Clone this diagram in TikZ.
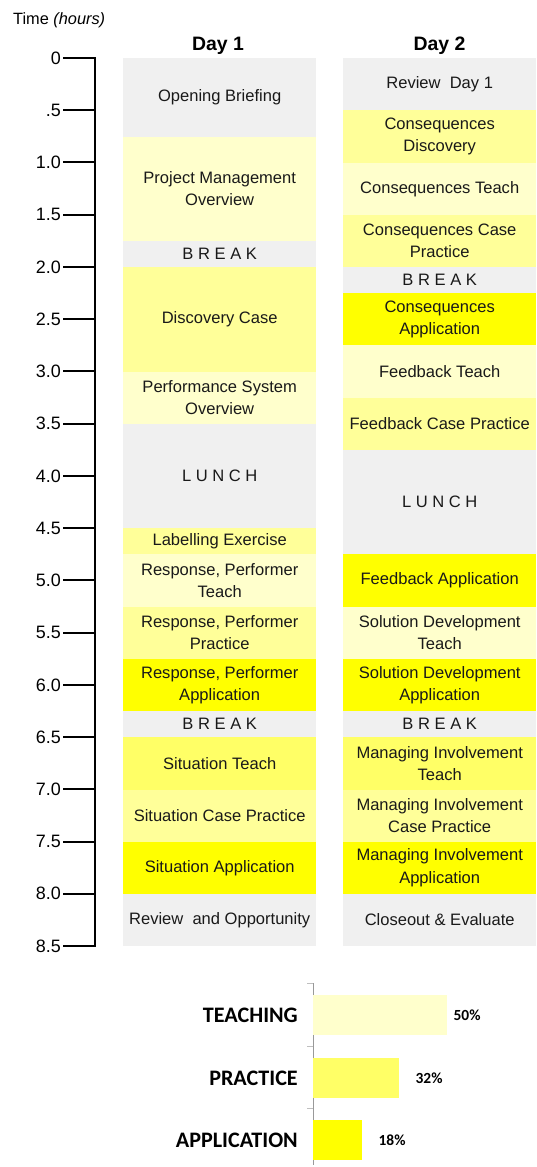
\documentclass[tikz,border=0pt]{standalone}
\usepackage{fontspec}
\setmainfont{Liberation Sans}
\newfontfamily\barfont{Carlito}
\usetikzlibrary{positioning}
\definecolor{offgray}{HTML}{F0F0F0}
\definecolor{teachy}{HTML}{FFFFCC}
\definecolor{practy}{HTML}{FFFF99}
\definecolor{strongy}{HTML}{FFFF66}
\definecolor{appy}{HTML}{FFFF00}
% one block of the timetable: x, start hour, end hour, colour, name, text
\newcommand{\slot}[6]{%
  \pgfmathsetmacro{\ya}{58+104.47*#2}
  \pgfmathsetmacro{\hh}{104.47*(#3-#2)}
  \node[cell, fill=#4, minimum height=\hh bp, anchor=north west] (#5) at (#1,\ya) {#6};
}

\begin{document}
\begin{tikzpicture}[x=1bp,y=-1bp,
    cell/.style={inner sep=0pt, minimum width=193bp, align=center,
      font=\fontsize{16.6}{22.5}\selectfont, text=black!90},
    head/.style={font=\fontsize{19.5}{22}\selectfont\bfseries},
    ticklab/.style={anchor=east, inner sep=0pt, font=\fontsize{18}{20}\selectfont},
    cat/.style={inner sep=0pt, font=\barfont\fontsize{22.2}{25}\selectfont\bfseries},
    pct/.style={inner sep=0pt, font=\barfont\fontsize{15.5}{18}\selectfont\bfseries},
    bar/.style={inner sep=0pt, minimum height=40bp, anchor=west}]
  \useasboundingbox (0,0) rectangle (537,1167);

  \node[anchor=west, inner sep=0pt, font=\fontsize{16.4}{18}\selectfont] (tlabel) at (13,20) {Time \textit{(hours)}};
  \node[head] (day1) at (218,46) {Day 1};
  \node[head] (day2) at (439.5,46) {Day 2};

  % time axis
  \draw[line width=2bp] (95,58) -- (95,946);
  \foreach \i/\lab in {0/0,1/.5,2/1.0,3/1.5,4/2.0,5/2.5,6/3.0,7/3.5,8/4.0,9/4.5,
      10/5.0,11/5.5,12/6.0,13/6.5,14/7.0,15/7.5,16/8.0,17/8.5}{
    \pgfmathsetmacro{\yy}{58+52.235*\i}
    \draw[line width=2bp] (63,\yy) -- (96,\yy);
    \node[ticklab] (tick\i) at (61,\yy) {\lab};
  }

  % day 1
  \slot{123}{0}{0.75}{offgray}{aa}{Opening Briefing}
  \slot{123}{0.75}{1.75}{teachy}{ab}{Project Management\\Overview}
  \slot{123}{1.75}{2}{offgray}{ac}{B R E A K}
  \slot{123}{2}{3}{practy}{ad}{Discovery Case}
  \slot{123}{3}{3.5}{teachy}{ae}{Performance System\\Overview}
  \slot{123}{3.5}{4.5}{offgray}{af}{L U N C H}
  \slot{123}{4.5}{4.75}{practy}{ag}{Labelling Exercise}
  \slot{123}{4.75}{5.25}{teachy}{ah}{Response, Performer\\Teach}
  \slot{123}{5.25}{5.75}{practy}{ai}{Response, Performer\\Practice}
  \slot{123}{5.75}{6.25}{appy}{aj}{Response, Performer\\Application}
  \slot{123}{6.25}{6.5}{offgray}{ak}{B R E A K}
  \slot{123}{6.5}{7}{strongy}{al}{Situation Teach}
  \slot{123}{7}{7.5}{practy}{am}{Situation Case Practice}
  \slot{123}{7.5}{8}{appy}{an}{Situation Application}
  \slot{123}{8}{8.5}{offgray}{ao}{Review\ \ and Opportunity}

  % day 2
  \slot{343}{0}{0.5}{offgray}{ba}{Review\ \ Day 1}
  \slot{343}{0.5}{1}{practy}{bb}{Consequences\\Discovery}
  \slot{343}{1}{1.5}{teachy}{bc}{Consequences Teach}
  \slot{343}{1.5}{2}{practy}{bd}{Consequences Case\\Practice}
  \slot{343}{2}{2.25}{offgray}{be}{B R E A K}
  \slot{343}{2.25}{2.75}{appy}{bf}{Consequences\\Application}
  \slot{343}{2.75}{3.25}{teachy}{bg}{Feedback Teach}
  \slot{343}{3.25}{3.75}{practy}{bh}{Feedback Case Practice}
  \slot{343}{3.75}{4.75}{offgray}{bi}{L U N C H}
  \slot{343}{4.75}{5.25}{appy}{bj}{Feedback Application}
  \slot{343}{5.25}{5.75}{teachy}{bk}{Solution Development\\Teach}
  \slot{343}{5.75}{6.25}{appy}{bl}{Solution Development\\Application}
  \slot{343}{6.25}{6.5}{offgray}{bm}{B R E A K}
  \slot{343}{6.5}{7}{strongy}{bn}{Managing Involvement\\Teach}
  \slot{343}{7}{7.5}{practy}{bo}{Managing Involvement\\Case Practice}
  \slot{343}{7.5}{8}{appy}{bp}{Managing Involvement\\Application}
  \slot{343}{8}{8.5}{offgray}{bq}{Closeout \& Evaluate}

  % share of time
  \draw[black!40] (313,983) -- (313,1165);
  \foreach \y in {983,1046,1108}
    \draw[black!25] (307,\y) -- (313,\y);
  \node[bar, fill=teachy, minimum width=134bp] (bteach) at (313,1015) {};
  \node[bar, fill=strongy, minimum width=86bp] (bpract) at (313,1078) {};
  \node[bar, fill=appy, minimum width=49bp] (bapp) at (313,1140) {};
  \node[cat, left=15bp of bteach] (lteach) {TEACHING};
  \node[cat, left=15bp of bpract] (lpract) {PRACTICE};
  \node[cat, left=15bp of bapp] (lapp) {APPLICATION};
  \node[pct, right=6bp of bteach] (pteach) {50\%};
  \node[pct, right=16bp of bpract] (ppract) {32\%};
  \node[pct, right=16bp of bapp] (papp) {18\%};
\end{tikzpicture}
\end{document}
